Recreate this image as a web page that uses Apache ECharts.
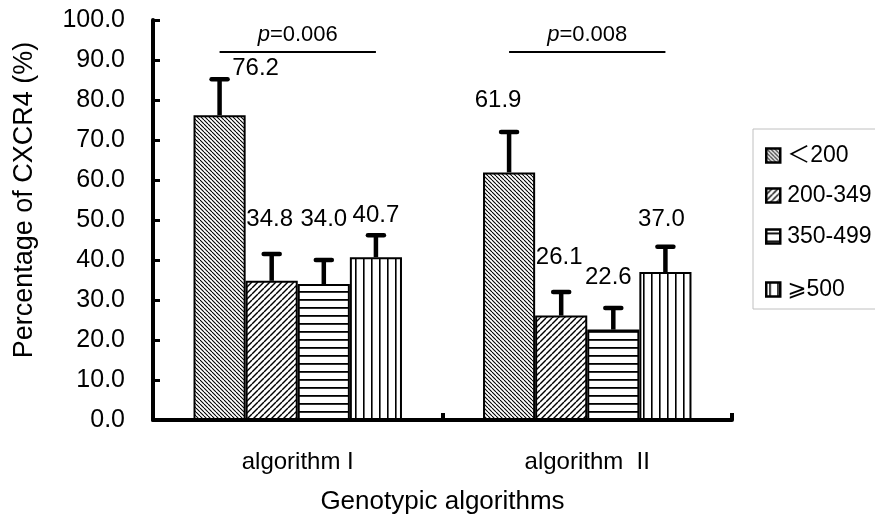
<!DOCTYPE html>
<html>
<head>
<meta charset="utf-8">
<script src="https://cdn.jsdelivr.net/npm/echarts@6/dist/echarts.min.js"></script>
<style>
html,body{margin:0;padding:0;background:#fff;overflow:hidden;}
#chart{width:875px;height:515px;}
</style>
</head>
<body>
<div id="chart"></div>
<script>
// ---------- data ----------
const categories = ['algorithm I', 'algorithm  II'];
const groupNames = ['＜200', '200-349', '350-499', '⩾500'];
const valuesLt200 = [76.2, 61.9];
const values200to349 = [34.8, 26.1];
const values350to499 = [34.0, 22.6];
const valuesGe500 = [40.7, 37.0];
const errLt200 = [9.0, 10.1];
const err200to349 = [6.7, 5.9];
const err350to499 = [6.0, 5.4];
const errGe500 = [5.5, 6.3];
const pValues = ['0.006', '0.008'];
const sigLevel = [92, 92];
const yMin = 0, yMax = 100, yInterval = 10;

// ---------- style ----------
const FONT = '"Liberation Sans", Arial, "DejaVu Sans", "Noto Sans CJK SC", sans-serif';
const CAT_GAP = 0.28;
// label shifts (px) relative to the error cap, per series per category
const labelShift = [
  [[36, -11], [-11, -32]],
  [[-2, -35], [-2, -35]],
  [[0, -41], [-5, -31]],
  [[0, -20], [-4, -27]]
];

function makePattern(kind) {
  const c = document.createElement('canvas');
  const ctx = c.getContext('2d');
  let p;
  if (kind === 'back') { p = 4; }
  else if (kind === 'fwd') { p = 6; }
  else { p = 8; }
  c.width = p; c.height = p;
  ctx.fillStyle = '#fff';
  ctx.fillRect(0, 0, p, p);
  ctx.strokeStyle = '#000';
  if (kind === 'back' || kind === 'fwd') {
    ctx.lineWidth = kind === 'back' ? 1.1 : 1.4;
    for (let k = -1; k <= 1; k++) {
      ctx.beginPath();
      if (kind === 'back') { ctx.moveTo(k * p, 0); ctx.lineTo(k * p + p, p); }
      else { ctx.moveTo(k * p, p); ctx.lineTo(k * p + p, 0); }
      ctx.stroke();
    }
  } else if (kind === 'h') {
    ctx.fillStyle = '#000';
    ctx.fillRect(0, 3, p, 1.8);
  } else if (kind === 'v') {
    ctx.fillStyle = '#000';
    ctx.fillRect(3, 0, 1.6, p);
  }
  return { image: c, repeat: 'repeat' };
}
const patterns = [makePattern('back'), makePattern('fwd'), makePattern('h'), makePattern('v')];

const seriesValues = [valuesLt200, values200to349, values350to499, valuesGe500];
const seriesErrors = [errLt200, err200to349, err350to499, errGe500];

const series = [];
seriesValues.forEach((vals, i) => {
  series.push({
    name: groupNames[i],
    type: 'bar',
    barGap: '0%',
    barCategoryGap: (CAT_GAP * 100) + '%',
    data: vals,
    itemStyle: { color: patterns[i], borderColor: '#000', borderWidth: 2 },
    emphasis: { disabled: true },
    z: 2
  });
});
seriesValues.forEach((vals, i) => {
  series.push({
    type: 'custom',
    name: 'err' + i,
    data: vals.map((v, c) => [c, v, seriesErrors[i][c]]),
    encode: { x: 0, y: 1 },
    z: 5,
    silent: true,
    renderItem: function (params, api) {
      const cat = api.value(0), v = api.value(1), e = api.value(2);
      const band = api.size([1, 0])[0];
      const bw = band * (1 - CAT_GAP) / 4;
      const cx = api.coord([cat, 0])[0] + (i - 1.5) * bw;
      const yBar = api.coord([cat, v])[1];
      const yTop = api.coord([cat, v + e])[1];
      const sh = labelShift[i][cat];
      return {
        type: 'group',
        children: [
          { type: 'line', shape: { x1: cx, y1: yBar, x2: cx, y2: yTop }, style: { stroke: '#000', lineWidth: 4.5 } },
          { type: 'line', shape: { x1: cx - 8, y1: yTop, x2: cx + 8, y2: yTop }, style: { stroke: '#000', lineWidth: 4.5, lineCap: 'round' } },
          { type: 'text', x: cx + sh[0], y: yTop + sh[1], style: { text: v.toFixed(1), fill: '#000', font: '24px ' + FONT, align: 'center', verticalAlign: 'middle' } }
        ]
      };
    }
  });
});
series.push({
  type: 'custom',
  name: 'sig',
  data: sigLevel.map((s, c) => [c, s]),
  encode: { x: 0, y: 1 },
  z: 5,
  silent: true,
  renderItem: function (params, api) {
    const cat = api.value(0), s = api.value(1);
    const band = api.size([1, 0])[0];
    const bw = band * (1 - CAT_GAP) / 4;
    const c = api.coord([cat, s]);
    return {
      type: 'group',
      children: [
        { type: 'line', shape: { x1: c[0] - 1.5 * bw, y1: c[1], x2: c[0] + 1.5 * bw, y2: c[1] }, style: { stroke: '#000', lineWidth: 2 } },
        { type: 'text', x: c[0], y: c[1] - 17, style: {
            text: '{i|p}=' + pValues[cat], fill: '#000', font: '22px ' + FONT, align: 'center', verticalAlign: 'middle',
            rich: { i: { fontStyle: 'italic', fontSize: 22, fontFamily: FONT } } } }
      ]
    };
  }
});

const legendCenters = [156, 196, 237, 290];
const legends = groupNames.map((n, i) => ({
  data: [n],
  left: 765,
  top: legendCenters[i] - 12,
  padding: 0,
  orient: 'vertical',
  icon: 'rect',
  itemWidth: 14,
  itemHeight: 14,
  itemGap: 0,
  selectedMode: false,
  itemStyle: { borderColor: '#000', borderWidth: 2.5 },
  textStyle: { fontFamily: FONT, fontSize: 23, color: '#000', padding: [0, 0, 0, 2] }
}));

const chart = echarts.init(document.getElementById('chart'), null, { renderer: 'canvas', width: 875, height: 515 });
chart.setOption({
  animation: false,
  backgroundColor: '#fff',
  textStyle: { fontFamily: FONT },
  grid: { left: 153, right: 143, top: 20, bottom: 95, containLabel: false, outerBoundsMode: 'none' },
  legend: legends,
  graphic: [{ type: 'rect', shape: { x: 753, y: 129, width: 140, height: 180 }, style: { fill: 'transparent', stroke: '#c0c0c0', lineWidth: 1 }, z: 0 }],
  xAxis: {
    type: 'category',
    data: categories,
    name: 'Genotypic algorithms',
    nameLocation: 'middle',
    nameGap: 69,
    nameTextStyle: { fontSize: 26, color: '#000', fontFamily: FONT },
    axisLine: { lineStyle: { color: '#000', width: 4 } },
    axisTick: { show: true, inside: true, length: 7, lineStyle: { color: '#000', width: 4 } },
    axisLabel: { fontSize: 24, color: '#000', margin: 30, fontFamily: FONT },
    splitLine: { show: false }
  },
  yAxis: {
    type: 'value',
    min: yMin, max: yMax, interval: yInterval,
    name: 'Percentage of CXCR4 (%)',
    nameLocation: 'middle',
    nameGap: 115,
    nameTextStyle: { fontSize: 27, color: '#000', fontFamily: FONT, padding: [0, 0, 0, 40] },
    axisLine: { show: true, lineStyle: { color: '#000', width: 4 } },
    axisTick: { show: true, inside: true, length: 7, lineStyle: { color: '#000', width: 3 } },
    axisLabel: { fontSize: 25, color: '#000', margin: 28, formatter: v => v.toFixed(1), fontFamily: FONT },
    splitLine: { show: false }
  },
  series: series
});
</script>
</body>
</html>
